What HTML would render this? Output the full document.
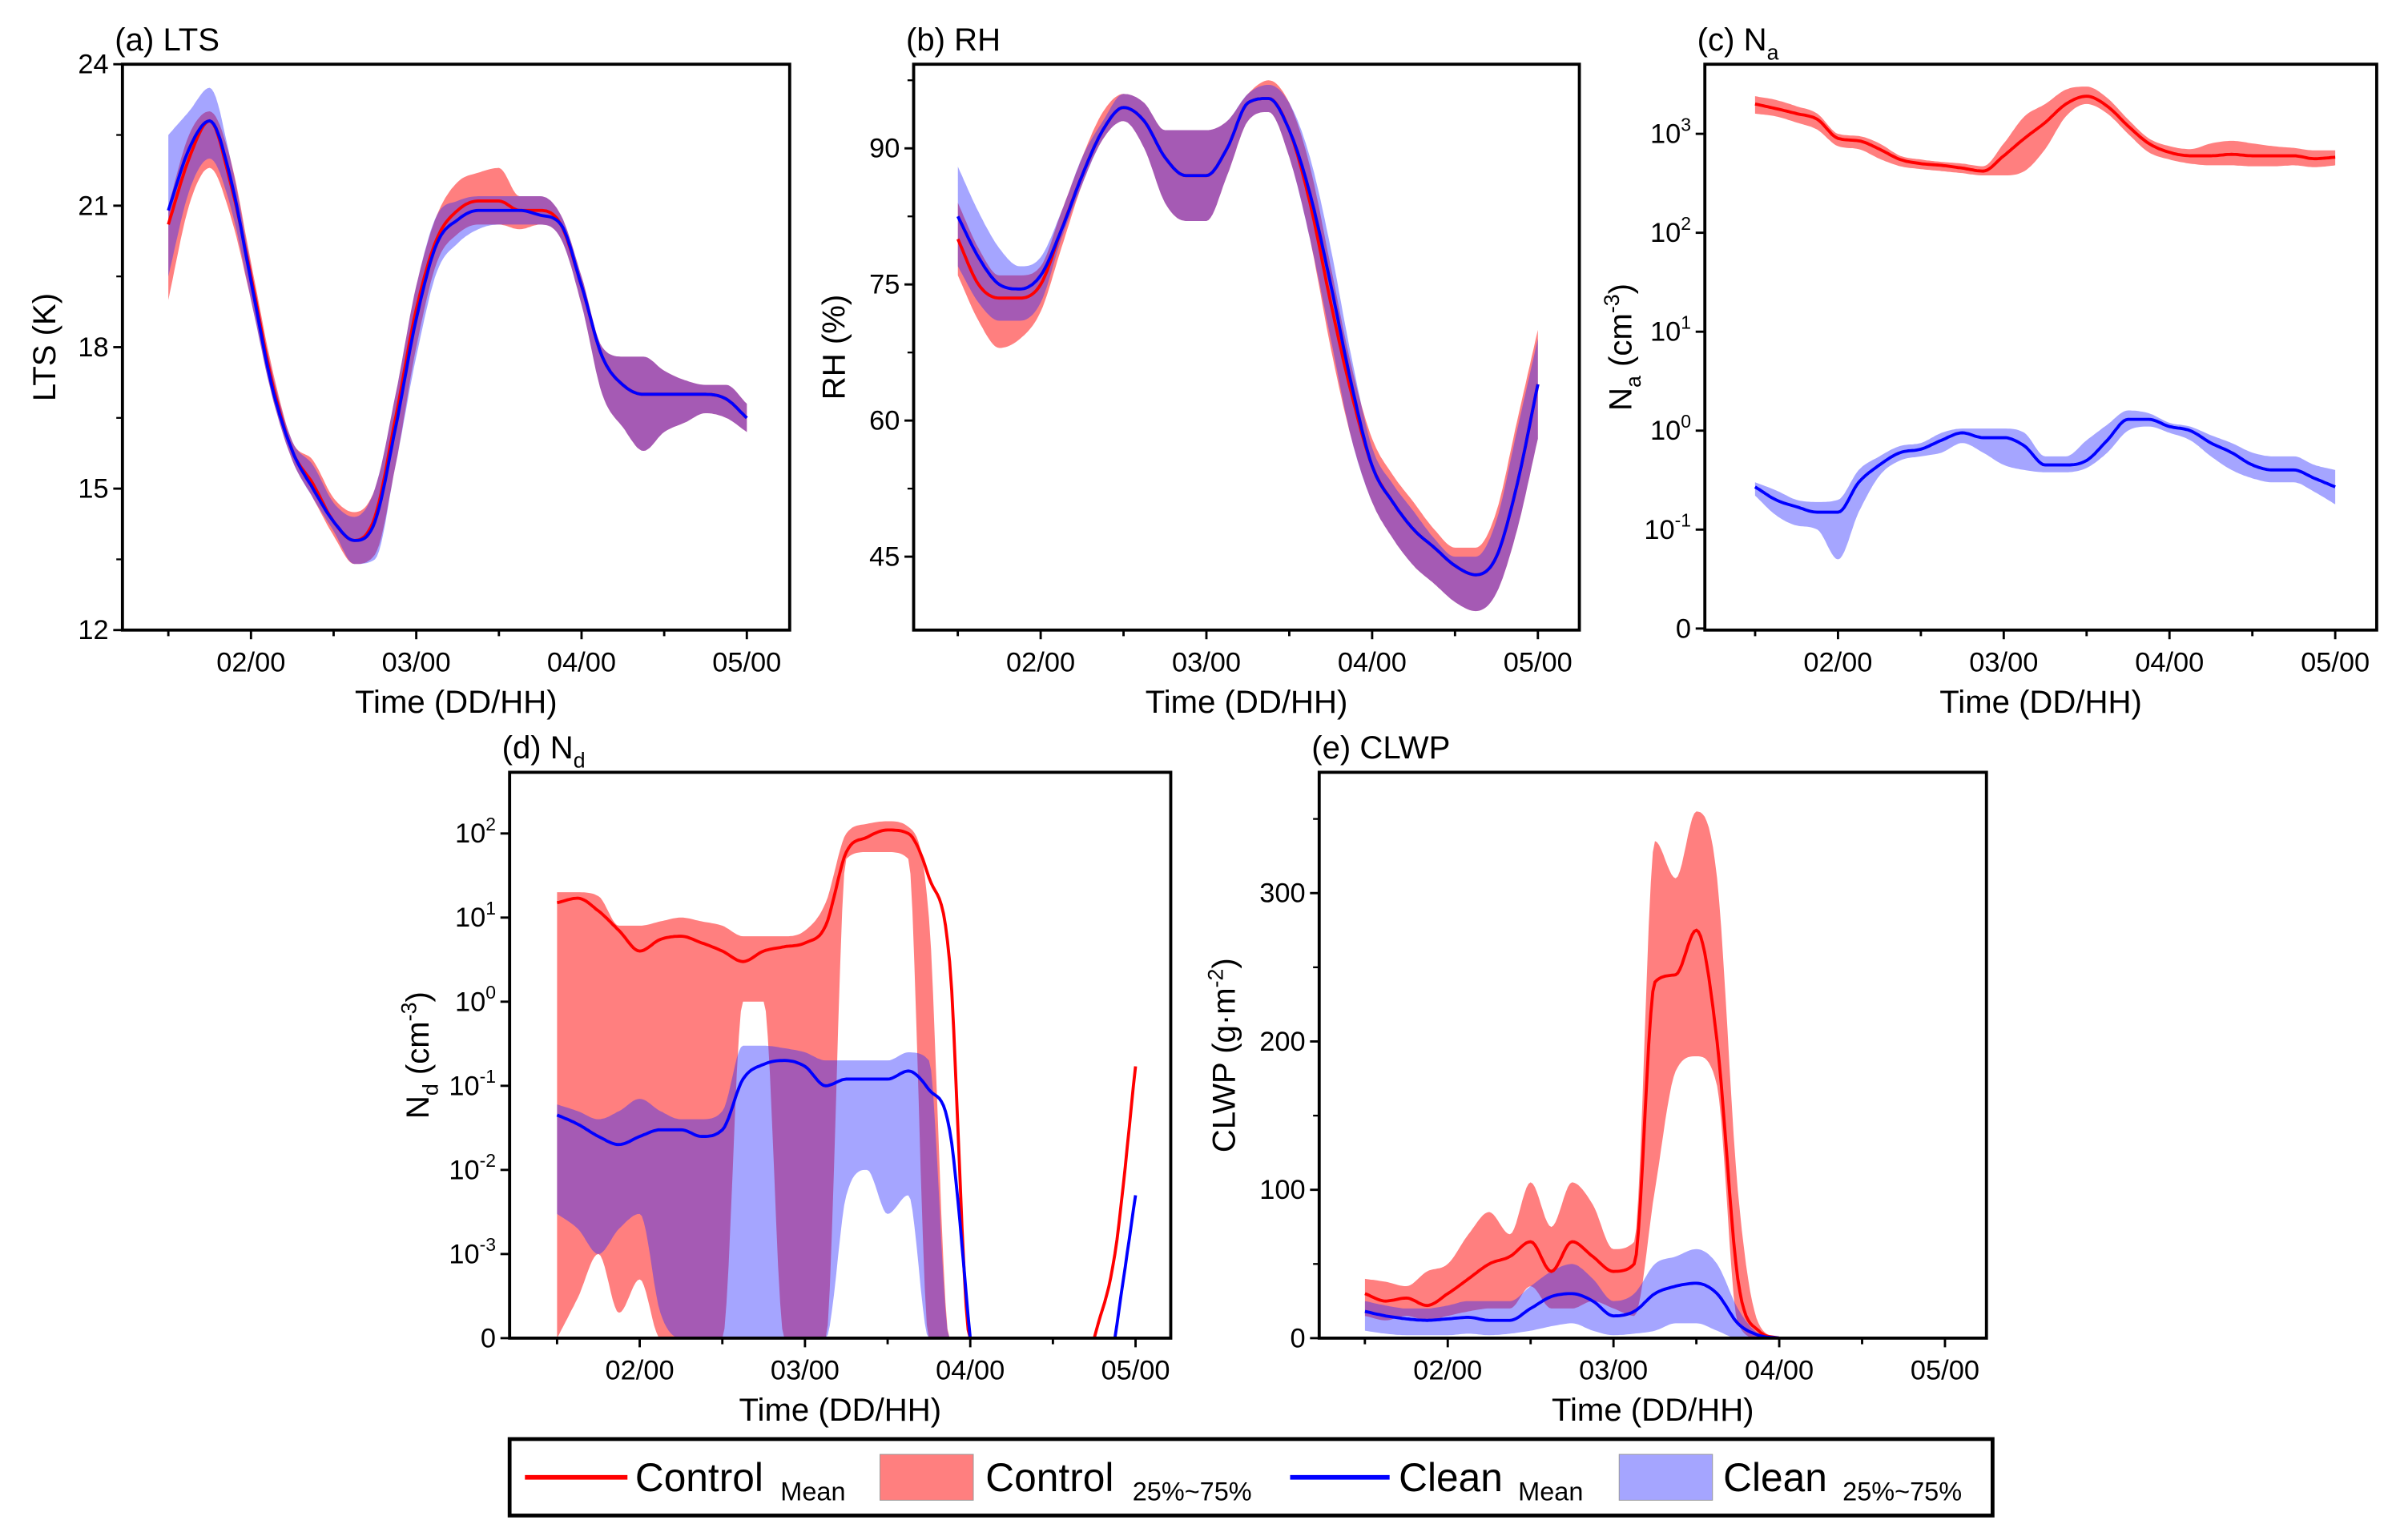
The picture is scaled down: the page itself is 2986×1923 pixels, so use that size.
<!DOCTYPE html>
<html><head><meta charset="utf-8"><style>
html,body{margin:0;padding:0;background:#fff;}
svg{display:block;font-family:"Liberation Sans",sans-serif;}
</style></head><body>
<svg id="fig" xmlns="http://www.w3.org/2000/svg" width="2986" height="1923" viewBox="0 0 1563 1007" preserveAspectRatio="none">
<rect width="1563" height="1007" fill="#fff"/>
<g>
<rect x="333" y="941" width="969" height="50" fill="#fff" stroke="#000" stroke-width="2.5"/>
<line x1="343" y1="966" x2="410" y2="966" stroke="#f00" stroke-width="3"/>
<text x="415" y="975" font-size="26">Control</text><text x="510" y="981" font-size="17">Mean</text>
<rect x="575" y="951" width="61" height="30" fill="rgba(255,0,0,0.5)" stroke="#999" stroke-width="0.5"/>
<text x="644" y="975" font-size="26">Control</text><text x="740" y="981" font-size="17">25%~75%</text>
<line x1="843" y1="966" x2="908" y2="966" stroke="#00f" stroke-width="3"/>
<text x="914" y="975" font-size="26">Clean</text><text x="992" y="981" font-size="17">Mean</text>
<rect x="1058" y="951" width="61" height="30" fill="rgba(40,40,255,0.42)" stroke="#999" stroke-width="0.5"/>
<text x="1126" y="975" font-size="26">Clean</text><text x="1204" y="981" font-size="17">25%~75%</text>
</g>
</svg>
<script>
const hours=[36,39,42,45,48,51,54,57,60,63,66,69,72,75,78,81,84,87,90,93,96,99,102,105,108,111,114,117,120];
// (a) LTS
const ltsCtlMean=[20.6,22.0,22.8,21.5,19.5,17.3,15.8,15.1,14.3,13.9,14.4,16.5,18.8,20.3,20.9,21.1,21.1,20.9,20.9,20.6,19.3,17.8,17.2,17.0,17.0,17.0,17.0,16.9,16.5];
const ltsCtlLo=[19.0,21.0,21.8,20.8,19.0,17.0,15.6,14.8,14.0,13.4,13.6,15.5,18.0,19.8,20.4,20.6,20.6,20.5,20.6,20.3,18.9,17.0,16.3,15.8,16.2,16.4,16.6,16.5,16.2];
const ltsCtlHi=[21.0,22.5,23.0,22.0,19.8,17.6,16.0,15.6,14.8,14.5,15.0,17.0,19.3,20.8,21.5,21.7,21.8,21.2,21.2,20.8,19.5,18.0,17.8,17.8,17.5,17.3,17.2,17.2,16.8];
const ltsClnMean=[20.9,22.2,22.8,21.6,19.4,17.2,15.8,15.0,14.3,13.9,14.3,16.3,18.6,20.2,20.7,20.9,20.9,20.9,20.8,20.6,19.3,17.8,17.2,17.0,17.0,17.0,17.0,16.9,16.5];
const ltsClnLo=[19.5,21.3,22.0,21.0,19.0,17.0,15.6,14.8,14.1,13.4,13.5,15.5,17.8,19.6,20.2,20.5,20.6,20.6,20.6,20.3,18.9,17.0,16.3,15.8,16.2,16.4,16.6,16.5,16.2];
const ltsClnHi=[22.5,23.0,23.5,22.0,19.7,17.5,16.0,15.5,14.7,14.4,15.0,17.0,19.3,20.8,21.1,21.2,21.2,21.2,21.2,20.8,19.5,18.0,17.8,17.8,17.5,17.3,17.2,17.2,16.8];
// (b) RH
const rhCtlMean=[80,75,73.5,73.5,75,81,87,92,94.5,93,89,87,87,90,95,95.5,92,84,73,63,55,51,48,46,44,43,45,53,64];
const rhCtlLo=[76,71,68,69,72,79,86,91,93,90,84,82,82,87,93,94,89,80,68,58,51,47,44,42,40,39,41,48,58];
const rhCtlHi=[84,79,76,76,77,83,89,94,96,95,92,92,92,93,96,97.5,95,88,77,66,58,54,51,48,46,46,50,60,70];
const rhClnMean=[82.5,78,75,74.5,76,81,87,92,94.5,93,89,87,87,90,95,95.5,92,85,75,64,55,51,48,46,44,43,45,53,64];
const rhClnLo=[77,73,71,71,73,80,86,91,93,90,84,82,82,87,93,94,89,80,69,58,51,47,44,42,40,39,41,48,58];
const rhClnHi=[88,83,79,77,78,83,89,93,96,95,92,92,92,93,96,97,95,89,79,67,57,53,50,47,45,45,49,59,69];
// (c) Na
const naCtlMean=[2000,1800,1600,1400,900,850,700,550,500,480,450,420,600,900,1300,2000,2400,1900,1200,800,650,600,600,620,600,600,600,560,580];
const naCtlLo=[1600,1500,1300,1100,750,700,560,470,440,420,400,380,380,420,700,1500,2000,1600,1000,650,550,500,480,480,470,470,480,460,480];
const naCtlHi=[2400,2200,1900,1600,1000,950,800,600,550,520,500,470,800,1500,2000,2800,3000,2300,1400,900,750,700,800,850,800,750,720,680,680];
const naClnMean=[0.27,0.2,0.17,0.15,0.15,0.3,0.45,0.6,0.65,0.8,0.95,0.85,0.85,0.7,0.45,0.45,0.5,0.8,1.3,1.3,1.1,1.0,0.75,0.6,0.45,0.4,0.4,0.33,0.27];
const naClnLo=[0.22,0.14,0.11,0.1,0.05,0.15,0.35,0.5,0.55,0.6,0.75,0.6,0.45,0.4,0.38,0.38,0.42,0.6,1.0,1.1,0.95,0.8,0.55,0.4,0.33,0.3,0.3,0.24,0.18];
const naClnHi=[0.3,0.25,0.2,0.19,0.2,0.4,0.55,0.7,0.75,0.95,1.05,1.05,1.05,0.95,0.55,0.55,0.8,1.15,1.6,1.5,1.2,1.1,0.9,0.75,0.6,0.55,0.55,0.45,0.4];
// (d) Nd (null = no data; 0 = zero)
const ndCtlMean=[15,17,12,7,4,5.5,6,5,4,3,4,4.5,5,8,60,90,110,100,30,3,0,0,null,null,null,null,0,0.001,0.17];
const ndCtlLo=[0,0.0003,0.001,0.0002,0.0005,0,0,0,0,1,1,0,0,0,50,60,60,50,0,0,0,0,null,null,null,null,null,null,null];
const ndCtlHi=[20,20,18,8,8,9,10,9,8,6,6,6,7,15,100,130,140,120,10,0,0,0,null,null,null,null,null,null,null];
const ndClnMean=[0.045,0.035,0.025,0.02,0.025,0.03,0.03,0.025,0.03,0.12,0.18,0.2,0.17,0.1,0.12,0.12,0.12,0.15,0.09,0.03,0,null,null,null,null,null,null,0,0.005];
const ndClnLo=[0.003,0.002,0.001,0.002,0.003,0.0002,0,0,0,0,0,0,0,0,0.005,0.01,0.003,0.005,0,0,0,null,null,null,null,null,null,null,null];
const ndClnHi=[0.06,0.05,0.04,0.05,0.07,0.05,0.04,0.04,0.05,0.3,0.3,0.28,0.25,0.2,0.2,0.2,0.2,0.25,0.2,0,0,null,null,null,null,null,null,null,null];
// (e) CLWP
const lwCtlMean=[30,25,27,22,30,40,50,55,65,45,65,55,45,50,240,245,275,200,40,5,0,null,null,null,null,null,null,null,null];
const lwCtlLo=[15,12,15,12,15,18,20,20,35,20,20,25,20,15,100,180,190,170,10,0,0,null,null,null,null,null,null,null,null];
const lwCtlHi=[40,38,35,45,50,70,85,70,105,75,105,90,60,65,335,310,355,310,100,10,0,null,null,null,null,null,null,null,null];
const lwClnMean=[18,15,13,12,13,14,12,12,20,28,30,25,15,18,30,35,37,30,10,2,0,null,null,null,null,null,null,null,null];
const lwClnLo=[5,3,2,2,2,3,2,3,5,8,10,5,2,3,5,10,10,5,0,0,0,null,null,null,null,null,null,null,null];
const lwClnHi=[25,22,20,20,22,25,25,25,35,45,50,40,25,30,50,55,60,50,20,3,0,null,null,null,null,null,null,null,null];

const NS="http://www.w3.org/2000/svg";
const svg=document.getElementById('fig');
function mk(tag,attrs,parent){const e=document.createElementNS(NS,tag);for(const k in attrs)e.setAttribute(k,attrs[k]);(parent||svg).appendChild(e);return e;}
const RED="#f00",BLUE="#00f",REDF="rgba(255,0,0,0.5)",BLUEF="rgba(40,40,255,0.42)";

function dense(pts){
  const n=pts.length;if(n<2)return pts.slice();
  const d=[],m=[];
  for(let i=0;i<n-1;i++)d.push((pts[i+1][1]-pts[i][1])/(pts[i+1][0]-pts[i][0]));
  m[0]=d[0];m[n-1]=d[n-2];
  for(let i=1;i<n-1;i++)m[i]=(d[i-1]*d[i]<=0)?0:(d[i-1]+d[i])/2;
  for(let i=0;i<n-1;i++){if(d[i]===0){m[i]=0;m[i+1]=0;continue;}const a=m[i]/d[i],b=m[i+1]/d[i],s=a*a+b*b;if(s>9){const t=3/Math.sqrt(s);m[i]=t*a*d[i];m[i+1]=t*b*d[i];}}
  const out=[];
  for(let i=0;i<n-1;i++){const x0=pts[i][0],x1=pts[i+1][0],h=x1-x0;for(let k=0;k<10;k++){const t=k/10,t2=t*t,t3=t2*t;
    const y=(2*t3-3*t2+1)*pts[i][1]+(t3-2*t2+t)*h*m[i]+(-2*t3+3*t2)*pts[i+1][1]+(t3-t2)*h*m[i+1];out.push([x0+t*h,y]);}}
  out.push(pts[n-1]);return out;
}
function segments(xs,vals,xf,yf){const segs=[];let cur=[];vals.forEach((v,i)=>{if(v===null){if(cur.length)segs.push(cur);cur=[];}else cur.push([xf(xs[i]),yf(v)]);});if(cur.length)segs.push(cur);return segs;}
function ptsStr(p){return p.map(q=>q[0].toFixed(1)+','+q[1].toFixed(1)).join(' ');}

function panel(cfg){
  const g=mk('g',{});
  
  
  const xf=h=>cfg.x02+(h-48)*cfg.day/24;
  const clip='clip-'+cfg.name;
  const cp=mk('clipPath',{id:clip},g);mk('rect',{x:cfg.x0,y:cfg.y0,width:cfg.x1-cfg.x0,height:cfg.y1-cfg.y0},cp);
  const plot=mk('g',{'clip-path':'url(#'+clip+')'},g);
  const series=[[cfg.cLo,cfg.cHi,REDF],[cfg.bLo,cfg.bHi,BLUEF]];
  series.forEach(([lo,hi,f],si)=>{
    const sl=segments(hours,lo,xf,cfg.yf),sh=segments(hours,hi,xf,cfg.yf);
    sl.forEach((s,i)=>{if(!sh[i])return;const a=dense(sh[i]),b=dense(s).reverse();
      const p=mk('polygon',{points:ptsStr(a.concat(b)),fill:f,stroke:'none'},plot);
      
      });
  });
  [[cfg.cMean,RED,'control'],[cfg.bMean,BLUE,'clean']].forEach(([m,c,nm])=>{
    segments(hours,m,xf,cfg.yf).forEach(s=>{
      const p=mk('polyline',{points:ptsStr(dense(s)),fill:'none',stroke:c,'stroke-width':2},plot);
      
      });
  });
  mk('rect',{x:cfg.x0,y:cfg.y0,width:cfg.x1-cfg.x0,height:cfg.y1-cfg.y0,fill:'none',stroke:'#000','stroke-width':2},g);
  const xl=['02/00','03/00','04/00','05/00'];
  for(let h=36;h<=120;h+=12){const x=xf(h);mk('line',{x1:x,y1:cfg.y1,x2:x,y2:cfg.y1+(h%24===0?6:4),stroke:'#000','stroke-width':1.5},g);}
  xl.forEach((l,i)=>{const t=mk('text',{x:xf(48+24*i),y:cfg.y1+27,'font-size':18,'text-anchor':'middle'},g);t.textContent=l;
    
    });
  const xt=mk('text',{x:(cfg.x0+cfg.x1)/2,y:cfg.y1+54,'font-size':21,'text-anchor':'middle'},g);xt.textContent='Time (DD/HH)';
  
  
  cfg.yticks.forEach(tk=>{const y=cfg.yf(tk.v);mk('line',{x1:cfg.x0-6,y1:y,x2:cfg.x0,y2:y,stroke:'#000','stroke-width':1.5},g);
    const t=mk('text',{x:cfg.x0-9,y:y+6,'font-size':18,'text-anchor':'end'},g);
    
    
    if(tk.e!==undefined){t.innerHTML='10<tspan dy="-8" font-size="12">'+tk.e+'</tspan>';}else t.textContent=tk.l;});
  (cfg.minor||[]).forEach(v=>{const y=cfg.yf(v);mk('line',{x1:cfg.x0-4,y1:y,x2:cfg.x0,y2:y,stroke:'#000','stroke-width':1.2},g);});
  const yt=mk('text',{transform:'translate('+cfg.ytx+','+((cfg.y0+cfg.y1)/2)+') rotate(-90)','font-size':21,'text-anchor':'middle'},g);
  yt.innerHTML=cfg.ytitle;
  
  
  const tt=mk('text',{x:cfg.x0-5,y:cfg.y0-9,'font-size':21},g);tt.innerHTML=cfg.title;
  
  
}
const lin=(v0,p0,v1,p1)=>v=>p0+(v-v0)*(p1-p0)/(v1-v0);
const logNa=v=>411-(Math.log10(Math.max(v,0.01))+2)*64.7;
const logNd=v=>875-(Math.log10(Math.max(v,0.0001))+4)*55;

panel({name:'panel-a-lts',x0:80,x1:516,y0:42,y1:412,x02:164,day:108,yf:lin(12,412,24,42),
 yticks:[12,15,18,21,24].map(v=>({v,l:''+v})),minor:[13.5,16.5,19.5,22.5],ytx:36,ytitle:'LTS (K)',title:'(a) LTS',
 cMean:ltsCtlMean,cLo:ltsCtlLo,cHi:ltsCtlHi,bMean:ltsClnMean,bLo:ltsClnLo,bHi:ltsClnHi});
panel({name:'panel-b-rh',x0:597,x1:1032,y0:42,y1:412,x02:680,day:108.3,yf:lin(45,364,90,97),
 yticks:[45,60,75,90].map(v=>({v,l:''+v})),minor:[52.5,67.5,82.5,97.5],ytx:552,ytitle:'RH (%)',title:'(b) RH',
 cMean:rhCtlMean,cLo:rhCtlLo,cHi:rhCtlHi,bMean:rhClnMean,bLo:rhClnLo,bHi:rhClnHi});
panel({name:'panel-c-na',x0:1114,x1:1553,y0:42,y1:412,x02:1201,day:108.3,yf:logNa,
 yticks:[{v:0.01,l:'0'},{v:0.1,e:'-1'},{v:1,e:'0'},{v:10,e:'1'},{v:100,e:'2'},{v:1000,e:'3'}],ytx:1066,
 ytitle:'N<tspan font-size="14" dy="6">a</tspan><tspan dy="-6"> (cm</tspan><tspan font-size="14" dy="-8">-3</tspan><tspan dy="8">)</tspan>',
 title:'(c) N<tspan font-size="14" dy="6">a</tspan>',
 cMean:naCtlMean,cLo:naCtlLo,cHi:naCtlHi,bMean:naClnMean,bLo:naClnLo,bHi:naClnHi});
panel({name:'panel-d-nd',x0:333,x1:765,y0:505,y1:875,x02:418,day:108,yf:logNd,
 yticks:[{v:0.0001,l:'0'},{v:0.001,e:'-3'},{v:0.01,e:'-2'},{v:0.1,e:'-1'},{v:1,e:'0'},{v:10,e:'1'},{v:100,e:'2'}],ytx:280,
 ytitle:'N<tspan font-size="14" dy="6">d</tspan><tspan dy="-6"> (cm</tspan><tspan font-size="14" dy="-8">-3</tspan><tspan dy="8">)</tspan>',
 title:'(d) N<tspan font-size="14" dy="6">d</tspan>',
 cMean:ndCtlMean,cLo:ndCtlLo,cHi:ndCtlHi,bMean:ndClnMean,bLo:ndClnLo,bHi:ndClnHi});
panel({name:'panel-e-clwp',x0:862,x1:1298,y0:505,y1:875,x02:946,day:108.3,yf:lin(0,875,300,584),
 yticks:[0,100,200,300].map(v=>({v,l:''+v})),minor:[50,150,250,350],ytx:807,
 ytitle:'CLWP (g·m<tspan font-size="14" dy="-8">-2</tspan><tspan dy="8">)</tspan>',title:'(e) CLWP',
 cMean:lwCtlMean,cLo:lwCtlLo,cHi:lwCtlHi,bMean:lwClnMean,bLo:lwClnLo,bHi:lwClnHi});
</script>
</body></html>
